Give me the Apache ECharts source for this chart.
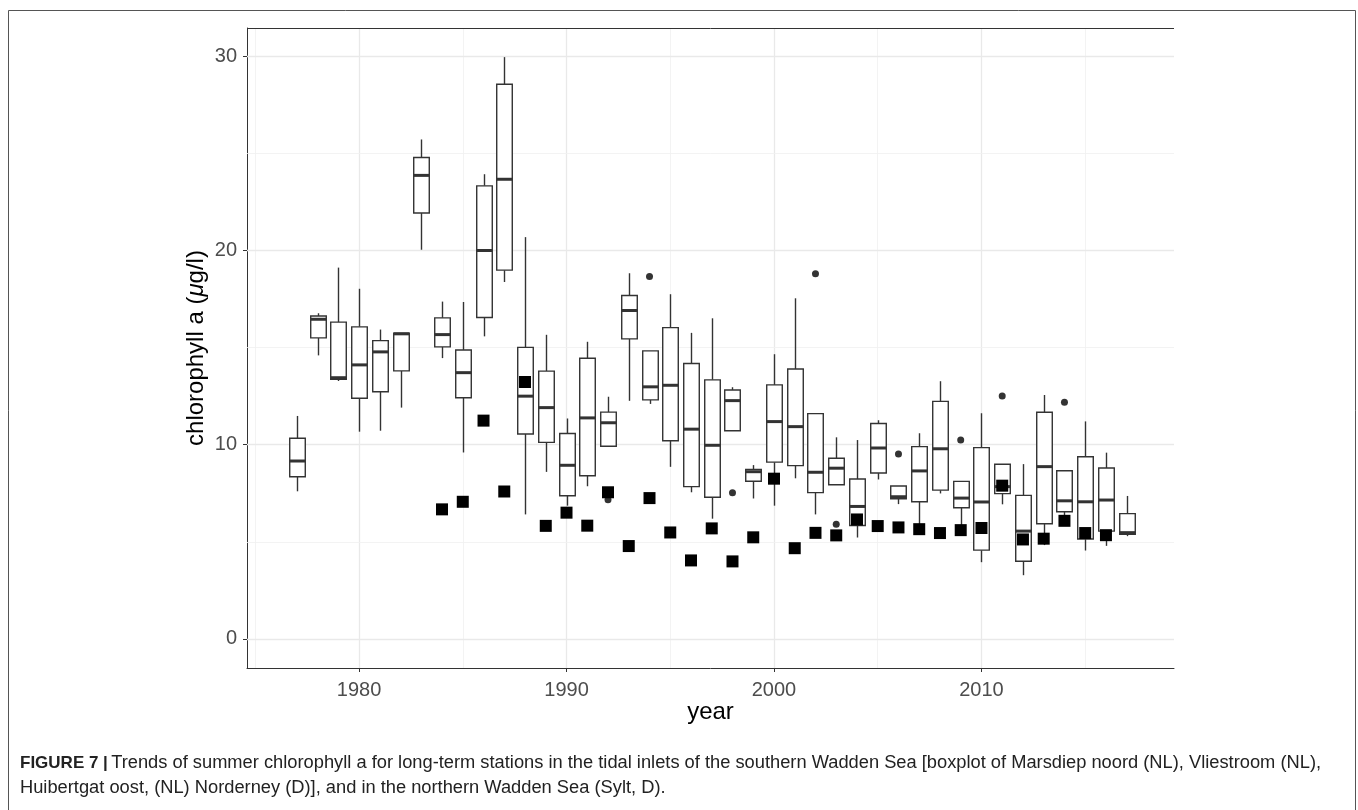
<!DOCTYPE html>
<html>
<head>
<meta charset="utf-8">
<script src="https://cdn.jsdelivr.net/npm/echarts@6/dist/echarts.min.js"></script>
<style>
  html, body { margin: 0; padding: 0; background: #ffffff; }
  #chart { width: 1358px; height: 810px; }
</style>
</head>
<body>
<div id="chart"></div>
<script>
// Summer chlorophyll a, southern Wadden Sea stations: yearly box summaries (µg/l)
const boxYears     = [1977, 1978, 1979, 1980, 1981, 1982, 1983, 1984, 1985, 1986, 1987, 1988, 1989, 1990, 1991, 1992, 1993, 1994, 1995, 1996, 1997, 1998, 1999, 2000, 2001, 2002, 2003, 2004, 2005, 2006, 2007, 2008, 2009, 2010, 2011, 2012, 2013, 2014, 2015, 2016, 2017];
const whiskerLow   = [7.60, 14.60, 13.28, 10.67, 10.72, 11.91, 20.04, 14.46,  9.60, 15.58, 18.38,  6.41,  8.60,  6.86,  7.86,  9.92, 12.26, 12.10,  8.86,  7.55,  6.19, 10.72, 7.23,  6.86,  8.27,  6.41, 7.94,  5.22,  8.21, 6.94,  5.86,  7.49, 5.86,  3.95, 6.93, 3.28,  4.83, 6.33,  4.55, 4.79, 5.29];
const quartile1    = [8.35, 15.50, 13.37, 12.39, 12.73, 13.80, 21.93, 15.04, 12.42, 16.55, 18.99, 10.55, 10.12,  7.37,  8.40,  9.92, 15.45, 12.31, 10.20,  7.84,  7.29, 10.72, 8.12,  9.10,  8.92,  7.53, 7.94,  5.84,  8.54, 7.22,  7.06,  7.66, 6.75,  4.57, 7.48, 4.00,  5.93, 6.55,  5.14, 5.55, 5.38];
const medians      = [9.16, 16.46, 13.45, 14.11, 14.78, 15.71, 23.87, 15.67, 13.71, 20.00, 23.67, 12.50, 11.91,  8.94, 11.38, 11.13, 16.91, 12.98, 13.06, 10.80,  9.97, 12.27, 8.61, 11.19, 10.93,  8.58, 8.79,  6.82,  9.83, 7.32,  8.65,  9.79, 7.25,  7.05, 7.84, 5.55,  8.87, 7.11,  7.06, 7.15, 5.47];
const quartile3    = [10.33, 16.63, 16.31, 16.07, 15.36, 15.74, 24.79, 16.53, 14.88, 23.33, 28.56, 15.01, 13.79, 10.58, 14.45, 11.68, 17.68, 14.83, 16.03, 14.18, 13.34, 12.82, 8.73, 13.08, 13.90, 11.60, 9.30, 8.23, 11.09, 7.87,  9.90, 12.23, 8.11,  9.85, 8.99, 7.39, 11.67, 8.66,  9.38, 8.80, 6.45];
const whiskerHigh  = [11.48, 16.77, 19.12, 18.03, 15.93, 15.74, 25.72, 17.37, 17.35, 23.93, 29.96, 20.69, 15.66, 11.35, 15.30, 12.47, 18.83, 14.83, 17.75, 15.76, 16.51, 12.96, 8.95, 14.66, 17.54, 11.60, 10.38, 10.24, 11.26, 7.87, 10.59, 13.27, 8.11, 11.62, 8.99, 9.00, 12.56, 8.66, 11.20, 9.59, 7.36];

// Single values beyond the whiskers
const outlierYears  = [1992, 1994, 1998, 2002, 2003, 2006, 2009, 2011, 2014];
const outlierValues = [7.17, 18.66, 7.53, 18.80, 5.90, 9.52, 10.24, 12.51, 12.18];

// Northern Wadden Sea (Sylt) yearly summer means
const syltYears  = [1984, 1985, 1986, 1987, 1988, 1989, 1990, 1991, 1992, 1993, 1994, 1995, 1996, 1997, 1998, 1999, 2000, 2001, 2002, 2003, 2004, 2005, 2006, 2007, 2008, 2009, 2010, 2011, 2012, 2013, 2014, 2015, 2016];
const syltValues = [6.67, 7.06, 11.24, 7.59, 13.23, 5.82, 6.50, 5.83, 7.55, 4.78, 7.25, 5.48, 4.04, 5.69, 3.99, 5.23, 8.25, 4.67, 5.46, 5.33, 6.15, 5.81, 5.74, 5.65, 5.45, 5.60, 5.71, 7.89, 5.12, 5.16, 6.08, 5.45, 5.34];

// Axis ticks and gridlines
const xTickLabels = [1980, 1990, 2000, 2010];
const xMinorGrid  = [1975, 1985, 1995, 2005, 2015];
const yTickLabels = [0, 10, 20, 30];
const yMinorGrid  = [5, 15, 25];

const X_MIN = 1974.6, X_MAX = 2019.28;
const Y_MIN = -1.5,   Y_MAX = 31.46;
const BOX_WIDTH = 0.75;           // in years
const INK = '#333333';
const FONT = '"Liberation Sans", Arial, Helvetica, sans-serif';

const boxRows = boxYears.map((y, i) => [y, whiskerLow[i], quartile1[i], medians[i], quartile3[i], whiskerHigh[i]]);
const outlierRows = outlierYears.map((y, i) => [y, outlierValues[i]]);
const syltRows = syltYears.map((y, i) => [y, syltValues[i]]);

function renderBox(params, api) {
  const yr = api.value(0);
  const lo = api.coord([yr, api.value(1)]);
  const q1 = api.coord([yr, api.value(2)]);
  const md = api.coord([yr, api.value(3)]);
  const q3 = api.coord([yr, api.value(4)]);
  const hi = api.coord([yr, api.value(5)]);
  const half = api.size([BOX_WIDTH, 0])[0] / 2;
  const cx = Math.round(md[0]) + 0.5;
  return {
    type: 'group',
    children: [
      { type: 'line', shape: { x1: cx, y1: hi[1], x2: cx, y2: q3[1] }, style: { stroke: INK, lineWidth: 1.4 } },
      { type: 'line', shape: { x1: cx, y1: q1[1], x2: cx, y2: lo[1] }, style: { stroke: INK, lineWidth: 1.4 } },
      { type: 'rect', shape: { x: cx - half, y: q3[1], width: half * 2, height: q1[1] - q3[1] },
        style: { fill: '#ffffff', stroke: INK, lineWidth: 1.4 } },
      { type: 'line', shape: { x1: cx - half, y1: md[1], x2: cx + half, y2: md[1] }, style: { stroke: INK, lineWidth: 3 } }
    ]
  };
}

const MAJOR = { type: 'solid', width: 1.3, color: '#e9e9e9' };
const MINOR = { type: 'solid', width: 0.8, color: '#f0f0f0' };
const gridLineData = []
  .concat(xTickLabels.map(v => ({ xAxis: v, lineStyle: MAJOR })))
  .concat(xMinorGrid.map(v => ({ xAxis: v, lineStyle: MINOR })))
  .concat(yTickLabels.map(v => ({ yAxis: v, lineStyle: MAJOR })))
  .concat(yMinorGrid.map(v => ({ yAxis: v, lineStyle: MINOR })))
  // panel top edge
  .concat([{ yAxis: Y_MAX, lineStyle: { type: 'solid', width: 1, color: INK } }]);

const chart = echarts.init(document.getElementById('chart'), null, { renderer: 'canvas' });

chart.setOption({
  animation: false,
  backgroundColor: '#ffffff',
  grid: {
    left: 247, right: 184, top: 28, bottom: 142,
    show: false
  },
  xAxis: {
    type: 'value', min: X_MIN, max: X_MAX,
    axisLine: { show: true, onZero: false, lineStyle: { color: INK, width: 1 } },
    splitLine: { show: false },
    axisTick: { show: true, length: 4, customValues: xTickLabels, lineStyle: { color: INK, width: 1 } },
    axisLabel: { customValues: xTickLabels, formatter: v => String(v), margin: 12, color: '#4d4d4d', fontSize: 20, fontFamily: FONT }
  },
  yAxis: {
    type: 'value', min: Y_MIN, max: Y_MAX,
    axisLine: { show: true, onZero: false, lineStyle: { color: INK, width: 1 } },
    splitLine: { show: false },
    axisTick: { show: true, length: 4, customValues: yTickLabels, lineStyle: { color: INK, width: 1 } },
    axisLabel: { customValues: yTickLabels, formatter: v => String(v), margin: 10, color: '#4d4d4d', fontSize: 20, fontFamily: FONT }
  },
  series: [
    {
      type: 'scatter', name: 'grid', data: [], silent: true, z: 1,
      markLine: { silent: true, symbol: 'none', z: 1, label: { show: false }, animation: false, data: gridLineData }
    },
    {
      type: 'custom', name: 'Southern Wadden Sea', renderItem: renderBox,
      encode: { x: 0, y: [1, 2, 3, 4, 5] }, data: boxRows, z: 3, silent: true
    },
    {
      type: 'scatter', name: 'outliers', data: outlierRows, symbol: 'circle', symbolSize: 7,
      itemStyle: { color: INK, opacity: 1 }, z: 4, silent: true
    },
    {
      type: 'scatter', name: 'Sylt', data: syltRows, symbol: 'rect', symbolSize: 12,
      itemStyle: { color: '#000000', opacity: 1 }, z: 5, silent: true
    },
    {
      type: 'scatter', name: 'labels', symbolSize: 1, itemStyle: { opacity: 0 }, silent: true, z: 6,
      label: { show: true, position: 'inside', color: '#000', fontSize: 24, fontStyle: 'italic', fontFamily: FONT },
      data: [
        { value: [2000, 23], label: { formatter: '<\u2013 Southern Wadden Sea' } },
        { value: [1980, 7], label: { formatter: 'Sylt \u2013>' } }
      ]
    }
  ],
  graphic: [
    {
      type: 'rect', silent: true, z: 0,
      shape: { x: 8.5, y: 10.5, width: 1347, height: 805 },
      style: { fill: 'none', stroke: '#555555', lineWidth: 1 }
    },
    {
      type: 'text', x: 196, y: 348, rotation: Math.PI / 2, silent: true,
      style: {
        text: '{t|chlorophyll a (}{i|\u03bc}{t|g/l)}',
        align: 'center', verticalAlign: 'middle', textAlign: 'center', textVerticalAlign: 'middle',
        rich: {
          t: { fontSize: 24, fontFamily: FONT, fill: '#000', color: '#000' },
          i: { fontSize: 24, fontFamily: FONT, fontStyle: 'italic', fill: '#000', color: '#000' }
        }
      }
    },
    {
      type: 'text', x: 710.5, y: 712, silent: true,
      style: {
        text: 'year', fontSize: 24, fontFamily: FONT, fill: '#000',
        align: 'center', verticalAlign: 'middle', textAlign: 'center', textVerticalAlign: 'middle'
      }
    },
    {
      type: 'text', x: 20, y: 763, silent: true,
      style: {
        text: '{b|FIGURE 7 |} {n|Trends of summer chlorophyll a for long-term stations in the tidal inlets of the southern Wadden Sea [boxplot of Marsdiep noord (NL), Vliestroom (NL),}',
        align: 'left', verticalAlign: 'middle', textAlign: 'left', textVerticalAlign: 'middle',
        rich: {
          b: { fontSize: 17, fontFamily: FONT, fontWeight: 'bold', fill: '#222', color: '#222' },
          n: { fontSize: 18.3, fontFamily: FONT, fill: '#222', color: '#222' }
        }
      }
    },
    {
      type: 'text', x: 20, y: 788, silent: true,
      style: {
        text: 'Huibertgat oost, (NL) Norderney (D)], and in the northern Wadden Sea (Sylt, D).',
        fontSize: 18.3, fontFamily: FONT, fill: '#222',
        align: 'left', verticalAlign: 'middle', textAlign: 'left', textVerticalAlign: 'middle'
      }
    }
  ]
});
</script>
</body>
</html>
